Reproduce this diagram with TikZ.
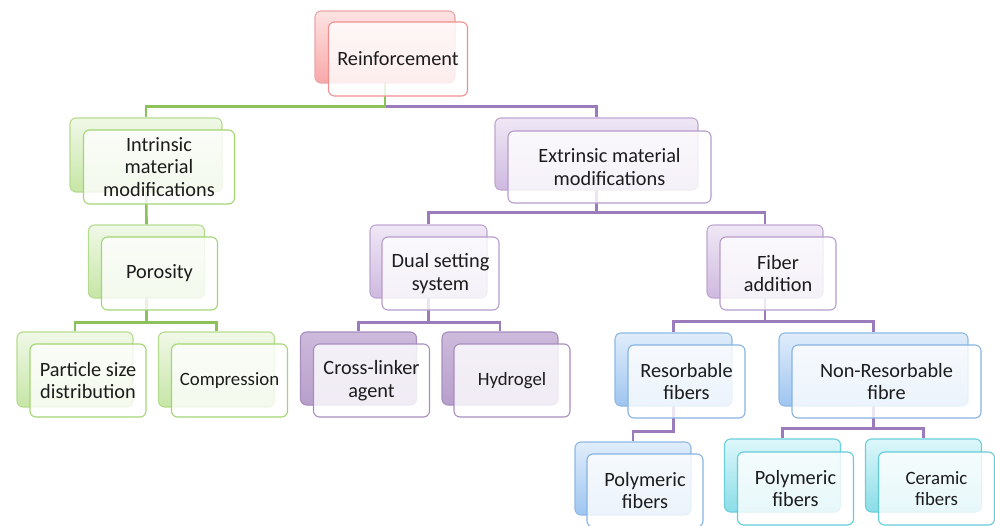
\documentclass[tikz,border=0pt]{standalone}
\usepackage{fontspec}
\setmainfont{Carlito}
\usetikzlibrary{positioning}
\pgfdeclarelayer{background}
\pgfsetlayers{background,main}
\definecolor{txt}{HTML}{1C1C1C}
\definecolor{grline}{HTML}{8DC15A}
\definecolor{puline}{HTML}{9B7BBB}

\begin{document}
\begin{tikzpicture}[x=1pt, y=-1pt,
		box/.style={rectangle, rounded corners=6pt, line width=1.1pt, minimum width=116pt, minimum height=73pt, align=center, inner sep=2pt, text=txt, font=\fontsize{20.3}{22.8}\selectfont},
		front/.style={box, fill=white, fill opacity=0.8, text opacity=1},
		rback/.style={box, draw={rgb,255:red,233;green,167;blue,167}, top color={rgb,255:red,253;green,227;blue,227}, bottom color={rgb,255:red,248;green,168;blue,168}},
		gback/.style={box, draw={rgb,255:red,181;green,220;blue,142}, top color={rgb,255:red,241;green,248;blue,232}, bottom color={rgb,255:red,198;green,230;blue,166}},
		pback/.style={box, draw={rgb,255:red,191;green,166;blue,210}, top color={rgb,255:red,239;green,231;blue,245}, bottom color={rgb,255:red,207;green,185;blue,224}},
		dback/.style={box, draw={rgb,255:red,168;green,141;blue,191}, top color={rgb,255:red,205;green,186;blue,219}, bottom color={rgb,255:red,183;green,159;blue,203}},
		bback/.style={box, draw={rgb,255:red,143;green,184;blue,228}, top color={rgb,255:red,224;green,237;blue,251}, bottom color={rgb,255:red,158;green,197;blue,240}},
		cback/.style={box, draw={rgb,255:red,107;green,207;blue,220}, top color={rgb,255:red,221;green,247;blue,250}, bottom color={rgb,255:red,138;green,221;blue,232}},
		rfront/.style={front, draw={rgb,255:red,239;green,143;blue,143}},
		gfront/.style={front, draw={rgb,255:red,163;green,213;blue,117}},
		pfront/.style={front, draw={rgb,255:red,181;green,156;blue,203}},
		dfront/.style={front, draw={rgb,255:red,168;green,141;blue,191}},
		bfront/.style={front, draw={rgb,255:red,134;green,179;blue,226}},
		cfront/.style={front, draw={rgb,255:red,98;green,204;blue,218}},
		small/.style={font=\fontsize{18.8}{21.5}\selectfont},
		greenline/.style={draw=grline, line width=2.6pt},
		purpline/.style={draw=puline, line width=2.4pt}]
		\useasboundingbox (0,0) rectangle (995,525);
		% back shapes
		\node[rback, minimum width=140pt, minimum height=72pt] (rootb) at (385,47) {};
		\node[gback, minimum width=152pt, minimum height=74pt] (intb) at (146,155) {};
		\node[gback] (porb) at (146.5,261.5) {};
		\node[gback, minimum height=75pt] (partb) at (75,369.5) {};
		\node[gback, minimum height=75pt] (compb) at (216.5,369.5) {};
		\node[pback, minimum width=203pt, minimum height=72pt] (extb) at (596.5,154) {};
		\node[pback, minimum width=117pt] (dualb) at (428.5,261.5) {};
		\node[dback] (crossb) at (358.5,368.5) {};
		\node[dback] (hydb) at (500,368.5) {};
		\node[pback] (fibb) at (765,261.5) {};
		\node[bback, minimum width=117pt] (resb) at (673.5,369.5) {};
		\node[bback, minimum width=189pt] (nonresb) at (873.5,369.5) {};
		\node[bback] (polyab) at (633,478.5) {};
		\node[cback] (polybb) at (782.5,475.5) {};
		\node[cback] (cerb) at (923.5,475.5) {};
		% front shapes
		\node[rfront, minimum width=139pt, minimum height=74pt] (root) at ([shift={(13,12)}]rootb) {Reinforcement};
		\node[gfront, minimum width=151pt, minimum height=74pt] (int) at ([shift={(13,12)}]intb) {Intrinsic\\material\\modifications};
		\node[gfront] (por) at ([shift={(13,12)}]porb) {Porosity};
		\node[gfront] (part) at ([shift={(13,11)}]partb) {Particle size\\distribution};
		\node[gfront, small] (comp) at ([shift={(13,11)}]compb) {Compression};
		\node[pfront, minimum width=203pt, minimum height=72pt] (ext) at ([shift={(13,13)}]extb) {Extrinsic material\\modifications};
		\node[pfront, minimum width=117pt] (dual) at ([shift={(12,12)}]dualb) {Dual setting\\system};
		\node[dfront] (cross) at ([shift={(13,12)}]crossb) {Cross-linker\\agent};
		\node[dfront, small] (hyd) at ([shift={(12,12)}]hydb) {Hydrogel};
		\node[pfront] (fib) at ([shift={(13,12)}]fibb) {Fiber\\addition};
		\node[bfront, minimum width=117pt] (res) at ([shift={(13,12)}]resb) {Resorbable\\fibers};
		\node[bfront, minimum width=189pt] (nonres) at ([shift={(13,12)}]nonresb) {Non-Resorbable\\fibre};
		\node[bfront] (polya) at ([shift={(12,12)}]polyab) {Polymeric\\fibers};
		\node[cfront] (polyb) at ([shift={(13,13)}]polybb) {Polymeric\\fibers};
		\node[cfront, small] (cer) at ([shift={(13,13)}]cerb) {Ceramic\\fibers};

		\begin{pgfonlayer}{background}
		\draw[purpline] (rootb.center) |- ([yshift=11pt]extb.north) -- (extb.north);
		\draw[greenline] (rootb.center) |- ([yshift=11pt]intb.north) -- (intb.north);
		\draw[greenline] (intb.center) -- (porb.north);
		\draw[greenline] (porb.center) |- ([yshift=9pt]partb.north) -- (partb.north);
		\draw[greenline] (porb.center) |- ([yshift=9pt]compb.north) -- (compb.north);
		\draw[purpline] (extb.center) |- ([yshift=12pt]dualb.north) -- (dualb.north);
		\draw[purpline] (extb.center) |- ([yshift=12pt]fibb.north) -- (fibb.north);
		\draw[purpline] (dualb.center) |- ([yshift=9pt]crossb.north) -- (crossb.north);
		\draw[purpline] (dualb.center) |- ([yshift=9pt]hydb.north) -- (hydb.north);
		\draw[purpline] (fibb.center) |- ([yshift=11pt]resb.north) -- (resb.north);
		\draw[purpline] (fibb.center) |- ([yshift=11pt]nonresb.north) -- (nonresb.north);
		\draw[purpline] (resb.center) |- ([yshift=10pt]polyab.north) -- (polyab.north);
		\draw[purpline] (nonresb.center) |- ([yshift=10pt]polybb.north) -- (polybb.north);
		\draw[purpline] (nonresb.center) |- ([yshift=10pt]cerb.north) -- (cerb.north);
		\end{pgfonlayer}
	\end{tikzpicture}
\end{document}
